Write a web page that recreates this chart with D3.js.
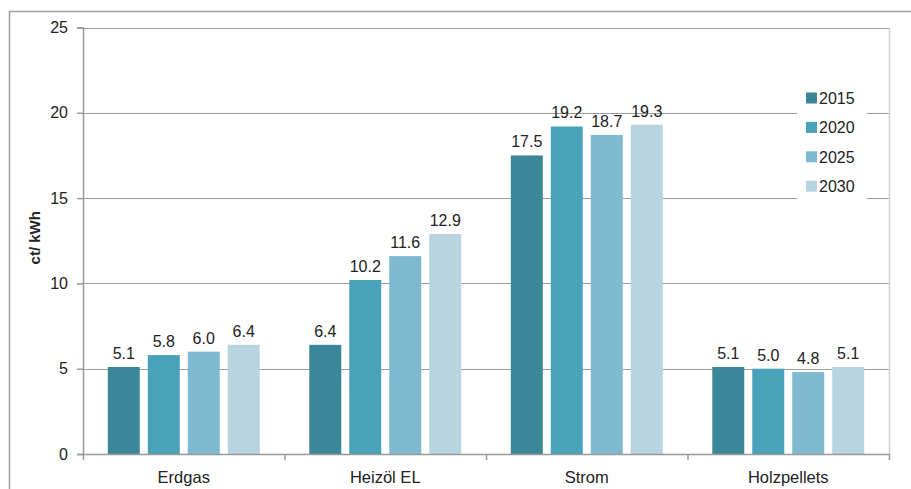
<!DOCTYPE html>
<html>
<head>
<meta charset="utf-8">
<script src="https://cdn.jsdelivr.net/npm/d3@7/dist/d3.min.js"></script>
<style>
  html, body { margin: 0; padding: 0; background: #fff; }
  svg { display: block; font-family: "Liberation Sans", Arial, sans-serif; }
</style>
</head>
<body>
<svg id="chart" width="911" height="489"></svg>
<script>
// Energy carriers and projected prices (ct/kWh) per year
const categories = ["Erdgas", "Heizöl EL", "Strom", "Holzpellets"];
const years = ["2015", "2020", "2025", "2030"];
const values2015 = [5.1, 6.4, 17.5, 5.1];
const values2020 = [5.8, 10.2, 19.2, 5.0];
const values2025 = [6.0, 11.6, 18.7, 4.8];
const values2030 = [6.4, 12.9, 19.3, 5.1];
const yTicks = [0, 5, 10, 15, 20, 25];
const colors = ["#398799", "#49a2ba", "#7fb9cf", "#b7d4e0"];

const seriesValues = [values2015, values2020, values2025, values2030];
const rows = categories.map((c, i) => ({
  category: c,
  items: years.map((y, j) => ({ year: y, value: seriesValues[j][i], color: colors[j] }))
}));

const svg = d3.select("#chart");
const plot = { left: 83, right: 889, top: 27.5, bottom: 454 };
const textColor = "#222";
const font = "Liberation Sans, Arial, sans-serif";

// outer frame
svg.append("line").attr("x1", 9).attr("x2", 911).attr("y1", 11.5).attr("y2", 11.5)
  .attr("stroke", "#a0a0a0").attr("stroke-width", 1.5);
svg.append("line").attr("x1", 9.5).attr("x2", 9.5).attr("y1", 11).attr("y2", 489)
  .attr("stroke", "#a0a0a0").attr("stroke-width", 1.5);

const y = d3.scaleLinear().domain([0, 25]).range([plot.bottom, plot.top]);
const x0 = d3.scaleBand().domain(categories).range([plot.left, plot.right]).padding(0);
const x1 = d3.scaleBand().domain(years).range([0, x0.bandwidth()])
  .paddingInner(0.2).paddingOuter(0.62);

// horizontal gridlines
svg.append("g").selectAll("line")
  .data(yTicks.filter(t => t > 0))
  .join("line")
  .attr("x1", plot.left).attr("x2", plot.right)
  .attr("y1", d => Math.round(y(d)) + 0.5).attr("y2", d => Math.round(y(d)) + 0.5)
  .attr("stroke", "#9a9a9a").attr("stroke-width", 1.2);

// right plot border
svg.append("line").attr("x1", plot.right + 0.5).attr("x2", plot.right + 0.5)
  .attr("y1", plot.top).attr("y2", plot.bottom)
  .attr("stroke", "#cfcfcf").attr("stroke-width", 1.5);

// y axis
const yAxis = d3.axisLeft(y).tickValues(yTicks).tickSize(6).tickPadding(9).tickFormat(d3.format("d"));
const gy = svg.append("g").attr("transform", `translate(${plot.left},0)`).call(yAxis);
gy.select(".domain").attr("stroke", "#999").attr("stroke-width", 1.5);
gy.selectAll(".tick line").attr("stroke", "#999").attr("stroke-width", 1.5);
gy.selectAll(".tick text").attr("fill", textColor).attr("font-size", 16)
  .attr("font-family", font);

// bars
const groups = svg.append("g").selectAll("g")
  .data(rows).join("g")
  .attr("transform", d => `translate(${x0(d.category)},0)`);

groups.selectAll("rect")
  .data(d => d.items).join("rect")
  .attr("x", d => x1(d.year))
  .attr("width", x1.bandwidth())
  .attr("y", d => y(d.value))
  .attr("height", d => y(0) - y(d.value))
  .attr("fill", d => d.color);

groups.selectAll("text")
  .data(d => d.items).join("text")
  .attr("x", d => x1(d.year) + x1.bandwidth() / 2)
  .attr("y", d => y(d.value) - 8)
  .attr("text-anchor", "middle")
  .attr("font-size", 16)
  .attr("fill", textColor)
  .text(d => d.value.toFixed(1));

// x axis
const xAxis = d3.axisBottom(x0).tickSize(0).tickPadding(17);
const gx = svg.append("g").attr("transform", `translate(0,${plot.bottom})`).call(xAxis);
gx.select(".domain").attr("stroke", "#999").attr("stroke-width", 1.5);
gx.selectAll(".tick text").attr("fill", textColor).attr("font-size", 16.5)
  .attr("font-family", font);

// category separators below the axis
const bounds = categories.map(c => x0(c)).concat([plot.right]);
svg.append("g").selectAll("line")
  .data(bounds).join("line")
  .attr("x1", d => d + 0.5).attr("x2", d => d + 0.5)
  .attr("y1", plot.bottom).attr("y2", plot.bottom + 6)
  .attr("stroke", "#999").attr("stroke-width", 1.5);

// y axis title
svg.append("text")
  .attr("transform", `translate(40,${(y(15) + y(10)) / 2 - 3}) rotate(-90)`)
  .attr("text-anchor", "middle")
  .attr("font-size", 15)
  .attr("font-weight", "bold")
  .attr("fill", textColor)
  .text("ct/ kWh");

// legend
const legend = svg.append("g").attr("transform", "translate(797,80)");
legend.append("rect").attr("x", 0).attr("y", 0).attr("width", 70).attr("height", 125).attr("fill", "#fff");
const li = legend.selectAll("g.item")
  .data(years).join("g").attr("class", "item")
  .attr("transform", (d, i) => `translate(9,${18 + i * 29.4})`);
li.append("rect").attr("x", 0).attr("y", -5.5).attr("width", 11).attr("height", 11)
  .attr("fill", (d, i) => colors[i]);
li.append("text").attr("x", 13).attr("y", 6).attr("font-size", 16)
  .attr("fill", textColor).text(d => d);
</script>
</body>
</html>
